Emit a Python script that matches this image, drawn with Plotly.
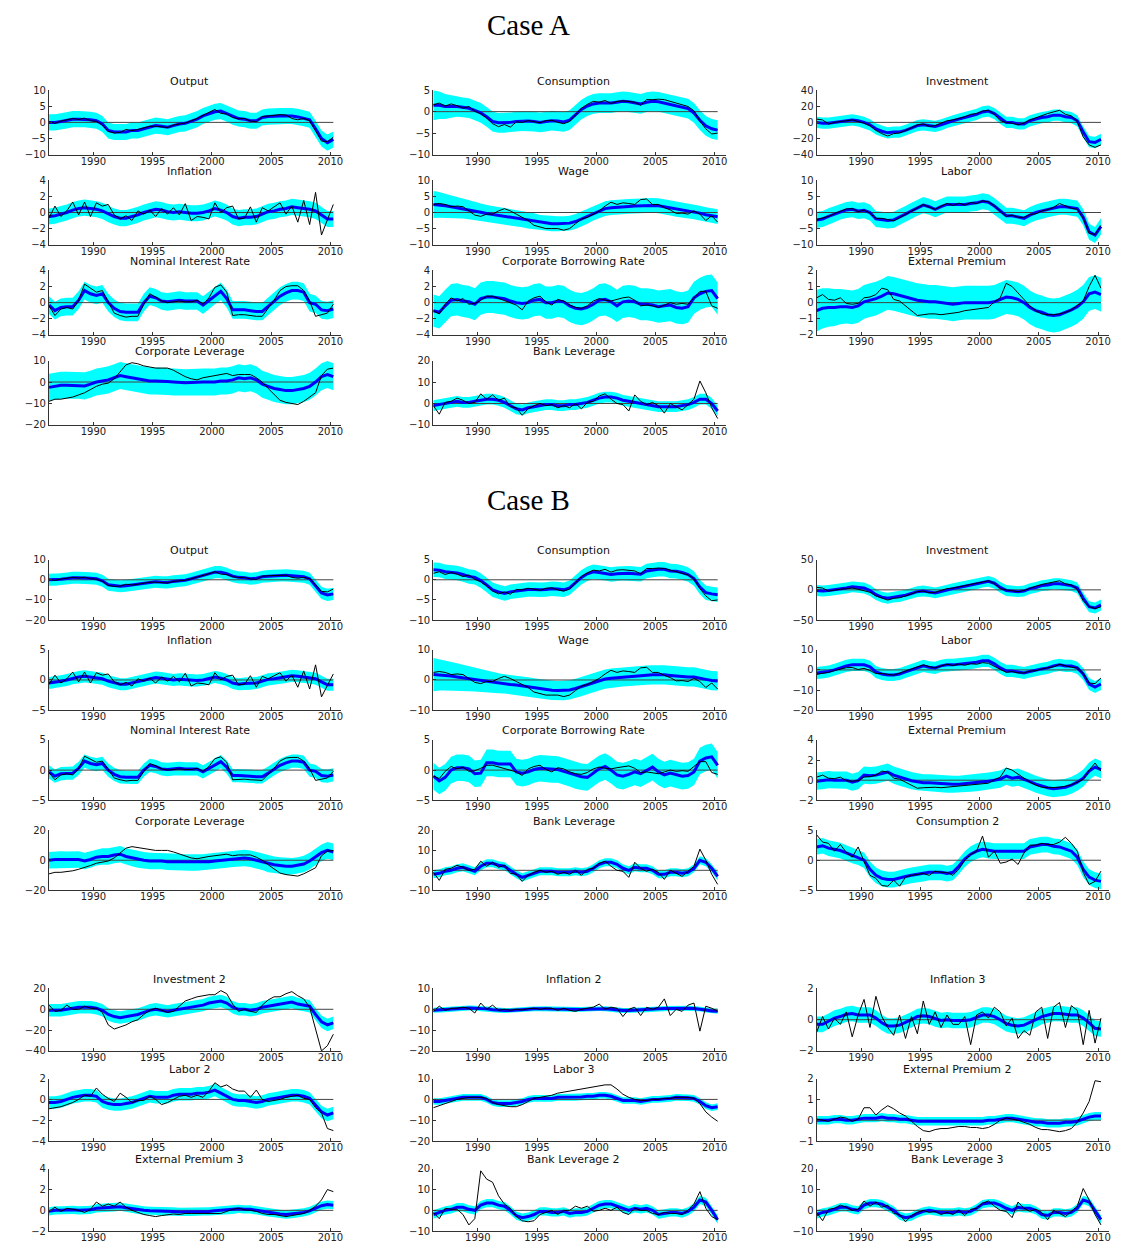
import plotly.graph_objects as go

# ---------------------------------------------------------------------------
# Time axis: semiannual observation dates
# ---------------------------------------------------------------------------
T = [1986.25 + 0.5 * i for i in range(49)]
YEAR_TICKS = [1990, 1995, 2000, 2005, 2010]

# ---------------------------------------------------------------------------
# Observed data (black lines)
# ---------------------------------------------------------------------------
OUTPUT_DATA = [0.2, -0.3, 0.4, 0.8, 1.2, 0.9, 1.3, 0.5, 0.3, -0.8, -2.8, -3.3, -3.1, -2.2, -2.6, -2.2,
               -1.8, -1.2, -1.2, -1.5, -1.6, -0.8, -0.6, -0.2, 0.5, 1.2, 2.2, 3, 4, 2.8, 2.6, 1.5,
               1.1, 1.2, 0.4, 0.2, 1.8, 2, 2.2, 2.4, 2.3, 1.2, 0.8, 1.2, 0.5, -2.5, -5.8, -6, -4.6]
CONS_DATA = [1.6, 2.0, 1.3, 1.8, 1.4, 0.8, 1.2, 0.1, -0.5, -1.5, -2.8, -3.5, -3, -3.6, -2.4, -2.5,
             -2.1, -2.3, -2.6, -2.1, -2, -2.5, -2.8, -2.3, -0.8, 0.8, 1.7, 2.4, 2.2, 2.6, 1.9, 2.4,
             2.5, 2.3, 2.2, 1.5, 2.8, 2.8, 2.9, 2.8, 2.4, 2, 1.6, 1.2, 0.2, -2.2, -4, -5.2, -5]
INV_DATA = [4, 3, -2, 0, 1, 2, 3, 1, -1, -4, -10, -14, -17, -14, -13, -10,
            -6, -3, -2, -5, -4, -1, 2, 3, 5, 7, 10, 11, 14, 15, 10, 2,
            0, -1, -3, -1, 3, 6, 9, 11, 13, 15, 10, 8, 1, -18, -28, -31, -28]
INFL_DATA = [-0.7, 0.8, -0.5, 0.2, 1.3, -0.3, 1.3, -0.5, 1.2, 0.8, 1, -0.3, -0.8, -0.4, -1, 0.2,
             -0.2, 0.3, -0.5, 0.5, -0.2, 0.6, -0.3, 1.1, -1, -0.5, -0.6, -0.8, 1.2, 0, 0.6, 0.8,
             -0.8, -0.7, 0.7, -1.2, 0.6, 0.2, 0.7, 1.2, -0.2, 0.8, -1.2, 1.5, -1.5, 2.5, -2.8, -1, 1]
WAGE_DATA = [2.5, 2.8, 2.5, 1.8, 2, 1.8, 0.5, -0.8, -1.2, -0.5, -0.5, 0.5, 1.2, 0.5, -0.5, -1.5,
             -2.5, -4, -4.5, -5, -5, -5, -5.5, -5, -3.5, -2, -1.5, -0.5, 0.5, 2, 3.2, 2.5,
             3, 2.8, 2.5, 4, 4.2, 2.5, 2.5, 1.5, 0.8, -0.3, -0.2, -0.5, 0.5, -0.5, -2.5, -1, -3]
LAB_DATA = [-2.2, -1.8, -1.2, -0.3, 0.5, 1.1, 1.2, 0.2, 0.8, -0.3, -1.8, -1.8, -2.2, -2.6, -1.6, -0.6,
            0.6, 1.6, 2.5, 1.6, 1, 2, 2.8, 2.2, 2.9, 2.3, 3.1, 2.8, 3.6, 3.3, 2, 0.3,
            -1.2, -0.8, -1.5, -1.5, -0.6, -0.4, 0.5, 0.9, 1.6, 2.8, 2.1, 1.3, 1, -1.8, -6.5, -6.8, -4]
NOM_DATA = [-0.4, -1.6, -0.8, -0.6, -0.8, 0.3, 2.3, 1.8, 1.3, 1.5, 0, -1.3, -1.6, -1.8, -1.7, -1.7,
            -0.2, 1.1, 0.7, 0.2, 0, 0.1, 0.2, 0.1, 0.1, 0.3, -0.2, 0.6, 1.9, 2.2, 1.3, -1.6,
            -1.5, -1.5, -1.6, -1.7, -1.7, -0.7, 0.3, 1.5, 2, 2.1, 2.1, 1.5, 0.2, -1.7, -1.5, -1.3, -0.2]
CBR_DATA = [-1, -1.4, -0.2, 0.6, 0.2, 0.5, -0.2, -0.1, 0.3, 0.8, 0.8, 0.5, 0.3, 0, -0.3, -0.9,
            0.2, 0.6, 0.8, 0.1, -0.3, 0.4, 0.2, -0.3, -0.6, -0.7, -0.4, 0.2, 0.5, 0.3, 0.2, 0.4,
            0.6, 0.7, 0.3, -0.4, -0.3, -0.4, -0.6, -0.3, 0, -0.2, -0.1, -0.2, 0.6, 1.4, 1.4, -0.4, -0.7]
EP_DATA = [0.3, 0.5, 0.2, 0.15, 0.3, -0.05, -0.1, -0.05, 0.3, 0.35, 0.5, 0.9, 0.8, 0.2, 0.1, -0.2,
           -0.5, -0.8, -0.75, -0.7, -0.7, -0.75, -0.7, -0.65, -0.6, -0.5, -0.45, -0.4, -0.35, -0.3, 0.05, 0.3,
           1.2, 1.0, 0.6, 0.2, -0.2, -0.5, -0.7, -0.75, -0.75, -0.7, -0.6, -0.45, -0.2, 0.1, 1, 1.7, 0.9]
CL_DATA = [-9, -8, -8, -7.5, -7, -6, -5, -3.5, -2, -1, -0.5, 1.5, 5, 8, 9, 8.5,
           7.5, 7, 6.5, 6.5, 6.5, 5.5, 4, 2.5, 1.5, 1, 2, 2.5, 3, 3.5, 4, 3,
           3.5, 3.5, 3.5, 2, 0, -3, -6, -8.5, -9.5, -10, -10.5, -9, -7, -5, 3, 6, 6.5]
BL_DATA = [-1, -5, 0.5, 1, 2.5, 1.5, 0, 0.5, 4.5, 2, 4, 1.5, 2.5, -1.5, -2, -5.5,
           -2.5, -1, 0, -1, -0.5, -2, -1, -2, 0, -2.5, 0.5, 1, 3.5, 4.5, 2, 0,
           -0.5, -3.5, 4, 1, -0.5, 0.5, -1, -4.5, 0, -1.5, -3, -0.5, 2, 10.5, 5, -2, -7]
CONS2_DATA = [4.2, 3, 2.8, 1.5, 2.6, 1.3, 0.5, 2.2, -0.2, -2.5, -3, -4.2, -4.3, -3.3, -4.3, -2.8,
              -2.5, -2.3, -2.2, -2.5, -1.8, -2, -2, -2.5, -1.5, 0, 1, 1.5, 4, 0.5, 1.5, -0.5,
              -0.3, 0.2, -0.7, 1.2, 2.5, 2.5, 2.8, 2.6, 2.6, 3, 3.8, 2.8, 1.5, -2, -4, -3.5, -1.8]
INV2_DATA = [4, -2, -1, 4, 0, 0, 3, 1, 1, -3, -15, -19, -17, -15, -12, -10,
             -5, -1, 1, -1, -3, -2, 3, 8, 10, 12, 13, 14, 14, 18, 15, 5,
             -2, 0, -2, -3, 4, 9, 12, 12, 15, 17, 13, 10, 2, -20, -40, -35, -24]
INFL2_DATA = [-1, 1.5, -0.5, 0.5, 0.5, 1, 0.5, -1.8, 3, 0, 2, -0.5, 0, -0.5, 0, -0.3,
              0.3, 0.5, 0, 0.5, 0.5, -0.5, 0.5, -0.5, -1, 0, 0.5, 1, 2.5, 0, 1, 0.5,
              -3.5, 0, 1, -3, 1, 0, 1, 5, -3, 0, -1, 2, 3, -10.5, 1.5, 0.5, -1]
INFL3_DATA = [-0.8, 0.2, -0.6, 0.1, -0.3, 0.5, -1.1, 0.3, 1.3, -0.5, 1.5, 0.2, -0.5, -1, 0.3, -1.2,
              0.2, -0.9, 1.2, -0.3, 0.5, -0.5, 0.3, -0.3, -0.3, 0.2, -1.6, 0.3, 0.5, 0.1, 0.8, 0.5,
              -0.4, 0.1, -1.2, -0.7, -1, 0.5, 0.8, -1.2, 0.8, 1.1, -0.5, 0.9, 0.6, -1.6, 0.6, -1.5, 0.1]
LAB2_DATA = [-0.9, -0.8, -0.7, -0.5, -0.3, 0, 0.4, 0.3, 1.1, 0.5, 0.1, -0.2, 0.6, 0.2, -0.3, -0.1,
             -0.1, 0.3, 0, -0.5, -0.3, 0, 0.3, 0.4, 0.2, 0.4, 0.2, 0.8, 1.6, 1.2, 1.4, 1,
             0.8, 0.8, 0.2, 0.9, 0, -0.2, -0.1, 0, 0.2, 0.3, 0.4, 0.1, 0, -0.8, -1.3, -2.8, -3]
LAB3_DATA = [-4, -3, -2, -1, 0, 0.5, 1, 1, 1, 0.5, -1.5, -2.5, -3, -3.5, -3.5, -2.5,
             -1, 0.5, 1, 1.5, 2, 3, 3.5, 4, 4.5, 5, 5.5, 6, 6.5, 7, 7, 5,
             2.5, 1, 0, -0.5, -0.5, 0, 0, 0.5, 0.5, 1, 1, 1, 0.5, -2, -6, -8.5, -10.5]
EP2_DATA = [0.05, 0, -0.05, 0.05, 0.15, 0.1, -0.05, 0.05, 0.6, 0.6, 0.25, 0.5, 0.7, 0.55, 0.35, 0.2,
            -0.05, -0.3, -0.5, -0.55, -0.45, -0.4, -0.4, -0.35, -0.3, -0.3, -0.35, -0.35, -0.4, -0.35, -0.2, 0,
            0.1, 0.05, 0, -0.1, -0.2, -0.35, -0.45, -0.45, -0.5, -0.55, -0.5, -0.4, -0.1, 0.35, 0.9, 1.9, 1.85]
EP3_DATA = [-0.1, 0.3, -0.1, 0.2, 0.1, 0, -0.2, 0.1, 0.8, 0.4, 0.6, 0.4, 0.8, 0.3, 0, -0.2,
            -0.4, -0.5, -0.6, -0.5, -0.4, -0.35, -0.4, -0.3, -0.3, -0.3, -0.35, -0.3, -0.35, -0.3, -0.1, 0.1,
            0.2, 0.05, 0, -0.1, -0.3, -0.4, -0.4, -0.5, -0.6, -0.5, -0.4, -0.3, 0, 0.4, 1.0, 2.0, 1.8]
BL2_DATA = [-1, -4, 1, 0.5, 0.5, -2, -7, -4, 19, 15, 13.5, 7, 3, 1, -3, -5,
            -5.5, -5, -2, -1, 0, -2, 0, 0, 2, 1, 2, -0.5, 0, 1, 0, 1.5,
            -1, -2, 1, 0, 0, -1.5, -2, -1, -1.5, -1.5, -2, 0, 3, 9, 1, -3, -4.5]

# ---------------------------------------------------------------------------
# Case A: posterior medians and band half-widths
# ---------------------------------------------------------------------------
A_OUTPUT_MED = [0, 0, 0.3, 0.6, 1, 1, 1, 0.8, 0.5, -0.5, -2.5, -3, -3, -3, -2.5, -2.5,
                -2, -1.5, -1, -1.2, -1.5, -1, -0.5, -0.3, 0.3, 1, 2, 2.7, 3.3, 3.5, 2.7, 1.8,
                1.2, 1, 0.5, 0.5, 1.5, 1.8, 2, 2, 2, 2, 1.7, 1.3, 0.8, -2, -5, -6.3, -5.3]
A_CONS_MED = [1.5, 1.5, 1.2, 1.2, 1.2, 1, 0.8, 0.3, -0.3, -1.2, -2.3, -2.6, -2.6, -2.5, -2.3, -2.2,
              -2.2, -2.3, -2.5, -2.3, -2.1, -2.2, -2.4, -2, -0.8, 0.5, 1.3, 1.8, 2, 2, 2, 2.2,
              2.4, 2.3, 2, 1.8, 2.2, 2.4, 2.3, 2, 1.6, 1.3, 1, 0.7, -0.3, -2, -3.3, -4, -4.3]
A_CONS_BAND = [3.5, 3.2, 2.9, 2.6, 2.4] + [2.3] * 44
A_INV_MED = [0, -1, -1, 0, 1, 2, 3, 2, 0, -3, -8, -11, -13, -12, -12, -10,
             -7, -4, -3, -4, -5, -3, 0, 2, 4, 6, 8, 10, 13, 14, 11, 5,
             0, 0, -2, -2, 2, 4, 6, 7, 9, 9, 7, 6, 2, -12, -24, -25, -21]
A_INFL_MED = [-0.5, -0.4, -0.2, 0, 0.3, 0.5, 0.6, 0.5, 0.4, 0.2, -0.2, -0.5, -0.7, -0.7, -0.5, -0.3,
              0, 0.2, 0.4, 0.3, 0.1, 0, 0.1, 0, -0.1, -0.1, 0, 0.2, 0.5, 0.3, 0, -0.5,
              -0.7, -0.6, -0.6, -0.5, -0.2, 0.1, 0.2, 0.4, 0.5, 0.7, 0.6, 0.5, 0.4, 0.2, -0.3, -0.8, -0.8]
A_WAGE_MED = [2.5, 2.4, 2.1, 1.8, 1.5, 1.2, 0.8, 0.4, 0.1, -0.3, -0.6, -0.9, -1.2, -1.4, -1.7, -2,
              -2.4, -2.8, -3.1, -3.3, -3.5, -3.5, -3.5, -3.3, -2.8, -2, -1.2, -0.2, 0.6, 1.2, 1.5, 1.7,
              1.8, 1.9, 2, 2.1, 2.2, 2.2, 2.1, 1.8, 1.4, 1, 0.7, 0.4, 0.2, -0.2, -0.7, -1, -1.3]
A_WAGE_BAND = [4.2, 4, 3.7, 3.5, 3.3, 3.1, 2.9, 2.8] + [2.6] * 10 + [2.3] * 31
A_LAB_MED = [-2.3, -2, -1.2, -0.5, 0.3, 0.8, 1, 0.5, 0.7, 0, -2, -2.3, -2.5, -2.3, -1.5, -0.5,
             0.5, 1.5, 2.3, 1.8, 1, 1.8, 2.5, 2.5, 2.5, 2.5, 2.8, 3, 3.5, 3.2, 2, 0.5,
             -1, -1, -1.3, -1.8, -0.8, 0, 0.5, 1, 1.5, 1.8, 1.8, 1.5, 1.2, -1.5, -6, -7, -4.3]
A_NOM_MED = [-0.3, -1, -0.6, -0.5, -0.5, 0.3, 1.5, 1.1, 0.9, 1.1, 0, -0.7, -1.1, -1.2, -1.2, -1.2,
             0, 0.8, 0.6, 0.2, 0.1, 0.2, 0.3, 0.2, 0.2, 0.2, -0.3, 0.3, 0.9, 1.4, 0.5, -0.9,
             -0.9, -0.9, -1, -1.1, -1.1, -0.5, 0.2, 0.8, 1.2, 1.5, 1.5, 1.3, 0, -0.2, -0.9, -1, -0.8]
A_CBR_MED = [-1, -1.2, -0.4, 0.3, 0.4, 0.2, 0.1, -0.2, 0.5, 0.7, 0.7, 0.6, 0.5, 0.2, 0, -0.1,
             0, 0.3, 0.4, 0, 0, 0.2, 0.1, -0.4, -0.7, -0.8, -0.6, -0.2, 0.3, 0.4, 0.1, -0.4,
             0.1, 0.2, 0.1, -0.2, -0.2, -0.3, -0.5, -0.4, -0.3, -0.6, -0.7, -0.5, 0.6, 1.1, 1.4, 1.5, 0.5]
A_EP_MED = [-0.5, -0.35, -0.3, -0.3, -0.25, -0.25, -0.3, -0.2, 0.05, 0.15, 0.25, 0.4, 0.6, 0.55, 0.45, 0.35,
            0.25, 0.15, 0.1, 0.05, 0.05, 0, -0.05, -0.1, -0.05, 0, 0, 0, 0, 0, 0.05, 0.2,
            0.35, 0.3, 0.2, 0, -0.3, -0.5, -0.6, -0.75, -0.8, -0.75, -0.6, -0.45, -0.25, 0.05, 0.55, 0.65, 0.5]
A_EP_BAND = [1.3, 1.25, 1.2, 1.15, 1.1] + [1.05] * 44
A_CL_MED = [-2.5, -2, -1.5, -1.5, -1.5, -1.5, -1.8, -1, 0, 0.5, 1, 2, 3, 2.5, 2, 1.5,
            1, 0.5, 0.5, 0.5, 0.2, 0, -0.2, -0.3, -0.2, 0, 0, 0, 0, 0.5, 0.5, 1,
            2, 1.5, 2, 1, -1, -2, -3, -3.5, -4, -4, -3.5, -3, -2, 0, 2.5, 3.5, 2.5]
A_BL_MED = [-1, -0.5, 0, 0.5, 1, 0.5, 0.5, 1, 1.5, 2, 2, 1.5, 0.5, -1, -2.5, -3,
            -2, -1.5, -1, -0.5, -0.5, -1, -1, -0.5, -0.5, 0, 0.5, 1.5, 2.5, 3, 3, 2.5,
            1.5, 1, 0.5, 0, -0.5, -1, -1.5, -1.5, -1.5, -1.5, -1, -0.5, 0.5, 2, 2, 0, -3.5]

# ---------------------------------------------------------------------------
# Case B: posterior medians and band half-widths
# ---------------------------------------------------------------------------
B_OUTPUT_MED = [0, 0, 0.3, 0.6, 1, 1, 1, 0.8, 0.5, -0.5, -2.5, -3, -3.2, -3, -2.6, -2.2,
                -1.8, -1.3, -1, -1.2, -1.3, -0.8, -0.5, -0.2, 0.5, 1.3, 2.2, 3, 3.8, 3.8, 3, 1.8,
                1.2, 1, 0.5, 0.8, 1.5, 1.8, 2, 2.2, 2.2, 2, 1.8, 1.5, 0.5, -3, -6.5, -7.5, -7]
B_CONS_MED = [2.5, 2.4, 2, 1.8, 1.7, 1.3, 0.8, 0.6, -0.2, -1.3, -2.5, -3, -3.4, -3, -2.8, -2.6,
              -2.4, -2.4, -2.5, -2.4, -2.2, -2.3, -2.5, -2, -0.7, 0.6, 1.5, 2, 1.8, 1.6, 1.3, 1.5,
              1.6, 1.6, 1.5, 1.4, 2.2, 2.4, 2.6, 2.6, 2.2, 2.1, 1.8, 1.3, 0.3, -1.8, -3.2, -3.5, -3.7]
B_INV_MED = [-1, -2, -1, 0, 1, 3, 5, 4, 3, -1, -8, -12, -14, -12, -11, -9,
             -6, -3, -2, -3, -5, -3, 0, 2, 4, 6, 8, 10, 13, 14, 11, 4,
             -1, -2, -3, -2, 2, 4, 7, 8, 10, 10, 8, 7, 3, -14, -28, -30, -25]
B_WAGE_MED = [1.8, 1.7, 1.5, 1.3, 1, 0.7, 0.4, 0.1, -0.2, -0.5, -0.8, -1.1, -1.3, -1.5, -1.7, -2,
              -2.3, -2.6, -2.9, -3.2, -3.4, -3.5, -3.5, -3.3, -2.8, -2.2, -1.5, -0.8, -0.3, 0.3, 0.6, 0.8,
              1, 1.2, 1.3, 1.5, 1.6, 1.7, 1.8, 1.7, 1.5, 1.3, 1.1, 1, 1, 0.7, 0.2, -0.2, -0.3]
B_WAGE_BAND = [5.5, 5.2, 5, 4.7, 4.5, 4.3, 4.1, 3.9, 3.7, 3.5, 3.4, 3.3] + [3.2] * 37
B_LAB_MED = [-1.5, -1.3, -0.8, 0, 1, 2, 2.5, 2.5, 2.5, 1.5, -1, -2, -2.5, -2.5, -2, -1,
             0, 1, 2, 1.3, 1, 2, 2.5, 2.5, 2.8, 3, 3.3, 3.8, 4.5, 4.5, 3, 1,
             -0.5, -0.5, -1, -1.5, -0.8, 0, 0.5, 1, 2, 2.5, 2, 2, 1, -2, -7, -8.5, -7]
B_CBR_MED = [-1, -1.8, -1.2, 0, 0.4, 0.4, 0.2, -0.6, -0.5, 1.2, 1.2, 1, 1, 1, -0.3, -0.5,
             -0.3, 0.1, 0.3, 0.2, 0.1, 0.1, -0.2, -0.5, -0.9, -1.1, -1.2, -0.5, 0.2, 0.6, 0, -0.8,
             -1, -0.7, -0.3, -0.6, 0, 0.5, -0.3, -0.8, -0.5, -0.8, -1, -0.9, -0.3, 1.5, 2, 2.2, 0.8]
B_EP_MED = [-0.1, -0.05, 0.05, 0, 0, 0, -0.2, -0.05, 0.5, 0.45, 0.5, 0.65, 0.8, 0.5, 0.3, 0.1,
            -0.05, -0.15, -0.25, -0.25, -0.3, -0.35, -0.4, -0.4, -0.4, -0.35, -0.3, -0.25, -0.2, -0.1, 0, 0.1,
            0.4, 0.2, 0.3, 0.1, -0.15, -0.4, -0.6, -0.75, -0.85, -0.8, -0.7, -0.5, -0.2, 0.2, 0.9, 1.3, 1.05]
B_CL_MED = [0, 0.5, 0.5, 0.3, 0.5, 0.5, -0.5, 0.5, 2, 2.5, 2.5, 3.5, 4, 2.5, 1.5, 0.5,
            0, -0.5, -0.5, -0.5, -1, -1, -1.5, -1.5, -1.5, -1.5, -1.5, -1, -0.5, 0, 0.5, 1,
            1.5, 1.5, 1, 0, -1, -2.5, -3, -3.5, -4, -4, -3.5, -2.5, -0.5, 2, 5, 6.5, 5.5]
B_BL_MED = [-2, -1.5, -0.5, 0, 1, 1.5, 0.5, -0.5, 2, 3.5, 3.5, 2.5, 2, 0, -2, -3.5,
            -2.5, -1.5, -0.5, -0.5, -0.5, -1, -1, -1, -0.5, -1, -0.5, 1, 3, 4, 4, 3,
            1, 0, 1.5, 1, 1, 0, -2, -2, -1, -1, -1.5, -1, 1, 5, 4, 1, -3]
B_CONS2_MED = [2.2, 2.4, 2, 1.8, 1.6, 1.2, 0.8, 0.5, 0, -1.5, -2.5, -3, -3.2, -3.2, -2.9, -2.7,
               -2.5, -2.3, -2.2, -2, -2, -2, -2.2, -2, -1, 0.2, 1, 1.5, 1.8, 1.6, 1.5, 1.5,
               1.5, 1.4, 1.5, 1.5, 2.2, 2.4, 2.6, 2.6, 2.3, 2.2, 1.9, 1.5, 0.5, -1.5, -2.8, -3.3, -3.5]
C_INV2_MED = [-1, -1, -1, 0, 1, 2, 2, 2, 1, -1, -5, -7, -8, -7, -6, -5,
              -3, -1, 0, -1, -2, -1, 0, 1, 2, 3, 4, 6, 7, 8, 6, 2,
              0, 0, -1, 0, 2, 3, 4, 5, 6, 7, 5, 4, 3, -5, -12, -15, -13]
C_INFL2_MED = [-0.5, -0.3, -0.2, 0, 0.2, 0.5, 0.6, 0.5, 0.4, 0.2, -0.2, -0.5, -0.6, -0.6, -0.5, -0.3,
               0, 0.2, 0.3, 0.3, 0.1, 0, 0.1, 0, -0.1, -0.1, 0, 0.2, 0.4, 0.3, 0, -0.4,
               -0.6, -0.6, -0.5, -0.4, -0.2, 0.1, 0.2, 0.4, 0.5, 0.6, 0.5, 0.5, 0.4, 0.2, -0.3, -0.8, -1]
C_INFL3_MED = [-0.3, -0.3, -0.1, 0.1, 0.2, 0.35, 0.4, 0.3, 0.3, 0.3, 0.1, -0.2, -0.4, -0.4, -0.35, -0.2,
               0, 0.2, 0.25, 0.2, 0.05, -0.05, 0, -0.05, -0.05, -0.05, 0, 0.15, 0.3, 0.3, 0.2, 0,
               -0.25, -0.35, -0.4, -0.35, -0.2, 0, 0.2, 0.3, 0.4, 0.4, 0.35, 0.3, 0.3, 0.1, -0.2, -0.55, -0.6]
C_LAB2_MED = [-0.3, -0.3, -0.2, 0, 0.2, 0.3, 0.4, 0.4, 0.3, -0.2, -0.4, -0.5, -0.5, -0.4, -0.3, -0.1,
              0.1, 0.3, 0.2, 0.2, 0.2, 0.4, 0.5, 0.5, 0.5, 0.6, 0.6, 0.7, 0.9, 0.6, 0.3, 0,
              -0.1, -0.1, -0.2, -0.3, -0.2, 0, 0.1, 0.2, 0.3, 0.4, 0.4, 0.3, 0.1, -0.5, -1.2, -1.5, -1.3]
C_LAB3_MED = [-1, -1, -0.5, 0, 0.5, 1, 1, 1, 1, 0, -1.5, -2, -2, -2, -1.5, -1,
              0, 0.5, 0.5, 0.5, 0.5, 1, 1, 1, 1, 1.2, 1.5, 1.5, 2, 2, 1.5, 0.5,
              -0.5, -0.5, -0.5, -1, -0.5, 0, 0, 0.2, 0.5, 1, 1, 0.8, 0.5, -1, -3, -4, -3.5]
C_EP2_MED = [0, 0, 0, 0.05, 0.05, 0, 0, 0.05, 0.1, 0.1, 0.1, 0.15, 0.1, 0.1, 0.05, 0.05,
             0, -0.05, -0.05, -0.05, -0.05, -0.05, -0.05, -0.05, -0.05, -0.05, -0.05, -0.05, -0.05, 0, 0, 0.05,
             0.1, 0.1, 0.05, 0, -0.05, -0.1, -0.1, -0.15, -0.15, -0.15, -0.1, -0.1, -0.05, 0.05, 0.15, 0.2, 0.2]
C_EP3_MED = [-0.1, 0, 0, 0.05, 0.05, 0, 0, 0.05, 0.2, 0.25, 0.25, 0.3, 0.35, 0.25, 0.15, 0.05,
             0, -0.05, -0.05, -0.1, -0.1, -0.1, -0.15, -0.15, -0.15, -0.15, -0.1, -0.1, -0.05, 0, 0, 0.05,
             0.15, 0.1, 0.1, 0, -0.1, -0.2, -0.3, -0.35, -0.4, -0.35, -0.3, -0.2, -0.05, 0.2, 0.45, 0.55, 0.5]
C_BL2_MED = [-2, -1, 0, 0.5, 1.5, 1.5, 0.5, 0, 2.5, 3.5, 3.5, 2.5, 2, 0, -2.5, -3.5,
             -3, -2, -0.5, -0.5, -1, -1, -0.5, -1.5, -1, -1, -0.5, 1, 2.5, 3, 3, 2,
             1, 0, 1, 0.5, 1, 0, -2, -1.5, -1, -1, -1.5, -0.5, 1.5, 5, 4, 0, -4.5]
C_BL3_MED = [-2, -1, -0.5, 0.5, 1.5, 1.5, 0.5, 0, 2.5, 3.5, 3.5, 3, 1.5, 0, -2.5, -3.5,
             -3, -1.5, -0.5, 0, -0.5, -1, -1, -1, -0.5, -1, -0.5, 1, 3, 3.5, 3.5, 2.5,
             1, 0, 1.5, 1, 1, 0, -2, -2.5, -1, -1, -1.5, -1, 1, 5, 4, 0, -4.5]

# ---------------------------------------------------------------------------
# Panel definitions: (block, row, col, title, median, band, data, y-range, y-ticks)
# ---------------------------------------------------------------------------
PANELS = [
    ("A", 0, 0, "Output", A_OUTPUT_MED, 2.5, OUTPUT_DATA, [-10, 10], [-10, -5, 0, 5, 10]),
    ("A", 0, 1, "Consumption", A_CONS_MED, A_CONS_BAND, CONS_DATA, [-10, 5], [-10, -5, 0, 5]),
    ("A", 0, 2, "Investment", A_INV_MED, 7, INV_DATA, [-40, 40], [-40, -20, 0, 20, 40]),
    ("A", 1, 0, "Inflation", A_INFL_MED, 1.0, INFL_DATA, [-4, 4], [-4, -2, 0, 2, 4]),
    ("A", 1, 1, "Wage", A_WAGE_MED, A_WAGE_BAND, WAGE_DATA, [-10, 10], [-10, -5, 0, 5, 10]),
    ("A", 1, 2, "Labor", A_LAB_MED, 2.5, LAB_DATA, [-10, 10], [-10, -5, 0, 5, 10]),
    ("A", 2, 0, "Nominal Interest Rate", A_NOM_MED, 1.1, NOM_DATA, [-4, 4], [-4, -2, 0, 2, 4]),
    ("A", 2, 1, "Corporate Borrowing Rate", A_CBR_MED, 2.0, CBR_DATA, [-4, 4], [-4, -2, 0, 2, 4]),
    ("A", 2, 2, "External Premium", A_EP_MED, A_EP_BAND, EP_DATA, [-2, 2], [-2, -1, 0, 1, 2]),
    ("A", 3, 0, "Corporate Leverage", A_CL_MED, 6.3, CL_DATA, [-20, 10], [-20, -10, 0, 10]),
    ("A", 3, 1, "Bank Leverage", A_BL_MED, 2.5, BL_DATA, [-10, 20], [-10, 0, 10, 20]),
    ("B", 0, 0, "Output", B_OUTPUT_MED, 3.0, OUTPUT_DATA, [-20, 10], [-20, -10, 0, 10]),
    ("B", 0, 1, "Consumption", B_CONS_MED, 1.8, CONS_DATA, [-10, 5], [-10, -5, 0, 5]),
    ("B", 0, 2, "Investment", B_INV_MED, 9, INV_DATA, [-50, 50], [-50, 0, 50]),
    ("B", 1, 0, "Inflation", A_INFL_MED, 1.0, INFL_DATA, [-5, 5], [-5, 0, 5]),
    ("B", 1, 1, "Wage", B_WAGE_MED, B_WAGE_BAND, WAGE_DATA, [-10, 10], [-10, 0, 10]),
    ("B", 1, 2, "Labor", B_LAB_MED, 3.0, LAB_DATA, [-20, 10], [-20, -10, 0, 10]),
    ("B", 2, 0, "Nominal Interest Rate", A_NOM_MED, 1.1, NOM_DATA, [-5, 5], [-5, 0, 5]),
    ("B", 2, 1, "Corporate Borrowing Rate", B_CBR_MED, 2.2, CBR_DATA, [-5, 5], [-5, 0, 5]),
    ("B", 2, 2, "External Premium", B_EP_MED, 0.85, EP_DATA, [-2, 4], [-2, 0, 2, 4]),
    ("B", 3, 0, "Corporate Leverage", B_CL_MED, 5.5, CL_DATA, [-20, 20], [-20, 0, 20]),
    ("B", 3, 1, "Bank Leverage", B_BL_MED, 2.0, BL_DATA, [-10, 20], [-10, 0, 10, 20]),
    ("B", 3, 2, "Consumption 2", B_CONS2_MED, 1.3, CONS2_DATA, [-5, 5], [-5, 0, 5]),
    ("C", 0, 0, "Investment 2", C_INV2_MED, 6, INV2_DATA, [-40, 20], [-40, -20, 0, 20]),
    ("C", 0, 1, "Inflation 2", C_INFL2_MED, 1.2, INFL2_DATA, [-20, 10], [-20, -10, 0, 10]),
    ("C", 0, 2, "Inflation 3", C_INFL3_MED, 0.5, INFL3_DATA, [-2, 2], [-2, 0, 2]),
    ("C", 1, 0, "Labor 2", C_LAB2_MED, 0.6, LAB2_DATA, [-4, 2], [-4, -2, 0, 2]),
    ("C", 1, 1, "Labor 3", C_LAB3_MED, 1.6, LAB3_DATA, [-20, 10], [-20, -10, 0, 10]),
    ("C", 1, 2, "External Premium 2", C_EP2_MED, 0.2, EP2_DATA, [-1, 2], [-1, 0, 1, 2]),
    ("C", 2, 0, "External Premium 3", C_EP3_MED, 0.4, EP3_DATA, [-2, 4], [-2, 0, 2, 4]),
    ("C", 2, 1, "Bank Leverage 2", C_BL2_MED, 2.0, BL2_DATA, [-10, 20], [-10, 0, 10, 20]),
    ("C", 2, 2, "Bank Leverage 3", C_BL3_MED, 2.0, BL_DATA, [-10, 20], [-10, 0, 10, 20]),
]

# ---------------------------------------------------------------------------
# Page geometry (pixels) and styling
# ---------------------------------------------------------------------------
W, H = 1129, 1252
COL_LEFT = [49, 434, 818]
AX_W = 293
ROW_TOPS = {"A": [85, 176, 267, 358], "B": [559, 650, 741, 832], "C": [992, 1083, 1174]}
ROW_H = {"A": 65, "B": 61, "C": 63}
X_RANGE = [1986.24, 2010.93]

CYAN = "#00ffff"
BLUE = "#0000ff"
ZERO = "#444444"
AXIS = "#333333"
TICK_FONT = dict(family="DejaVu Sans", size=10, color="#222222")
TITLE_FONT = dict(family="DejaVu Sans", size=11, color="#111111")

fig = go.Figure()
annotations = []
layout_axes = {}

for k, (block, row, col, title, med, band, data, yr, yt) in enumerate(PANELS, start=1):
    for arr in (med, data):
        assert len(arr) == len(T), (title, block, len(arr))
    widths = band if isinstance(band, list) else [band] * len(T)
    assert len(widths) == len(T), (title, block)

    sfx = "" if k == 1 else str(k)
    xref, yref = "x" + sfx, "y" + sfx

    left = COL_LEFT[col]
    top = ROW_TOPS[block][row]
    h = ROW_H[block]

    upper = [m + w for m, w in zip(med, widths)]
    lower = [m - w for m, w in zip(med, widths)]

    # confidence band
    fig.add_trace(go.Scatter(x=T + T[::-1], y=upper + lower[::-1], fill="toself",
                             fillcolor=CYAN, mode="lines", line=dict(width=0, color=CYAN),
                             xaxis=xref, yaxis=yref, hoverinfo="skip"))
    # zero reference
    fig.add_trace(go.Scatter(x=[T[0], T[-1]], y=[0, 0], mode="lines",
                             line=dict(color=ZERO, width=1),
                             xaxis=xref, yaxis=yref, hoverinfo="skip"))
    # posterior median
    fig.add_trace(go.Scatter(x=T, y=med, mode="lines", line=dict(color=BLUE, width=3),
                             xaxis=xref, yaxis=yref, hoverinfo="skip"))
    # observed series
    fig.add_trace(go.Scatter(x=T, y=data, mode="lines", line=dict(color="black", width=1),
                             xaxis=xref, yaxis=yref, hoverinfo="skip"))

    common = dict(showline=True, linecolor=AXIS, linewidth=1, mirror=False,
                  ticks="inside", ticklen=3, tickcolor=AXIS, showgrid=False,
                  zeroline=False, tickfont=TICK_FONT, fixedrange=True)
    layout_axes["xaxis" + sfx] = dict(
        domain=[left / W, (left + AX_W) / W], range=X_RANGE, tickvals=YEAR_TICKS,
        anchor=yref, ticklabelstandoff=-3, **common)
    layout_axes["yaxis" + sfx] = dict(
        domain=[1 - (top + h) / H, 1 - top / H], range=yr, tickvals=yt,
        anchor=xref, **common)

    annotations.append(dict(text=title, xref="paper", yref="paper",
                            x=(left + 141) / W, y=1 - (top - 9) / H,
                            xanchor="center", yanchor="middle", showarrow=False,
                            font=TITLE_FONT))

for label, ypix in (("Case A", 19), ("Case B", 499)):
    annotations.append(dict(text=label, xref="paper", yref="paper", x=529 / W, y=1 - ypix / H,
                            xanchor="center", yanchor="middle", showarrow=False,
                            font=dict(family="Liberation Serif", size=29, color="#000000")))

fig.update_layout(
    width=W, height=H, margin=dict(l=0, r=0, t=0, b=0),
    paper_bgcolor="white", plot_bgcolor="white", showlegend=False,
    annotations=annotations, **layout_axes,
)

fig.write_html("out.html", config={"displayModeBar": False})
